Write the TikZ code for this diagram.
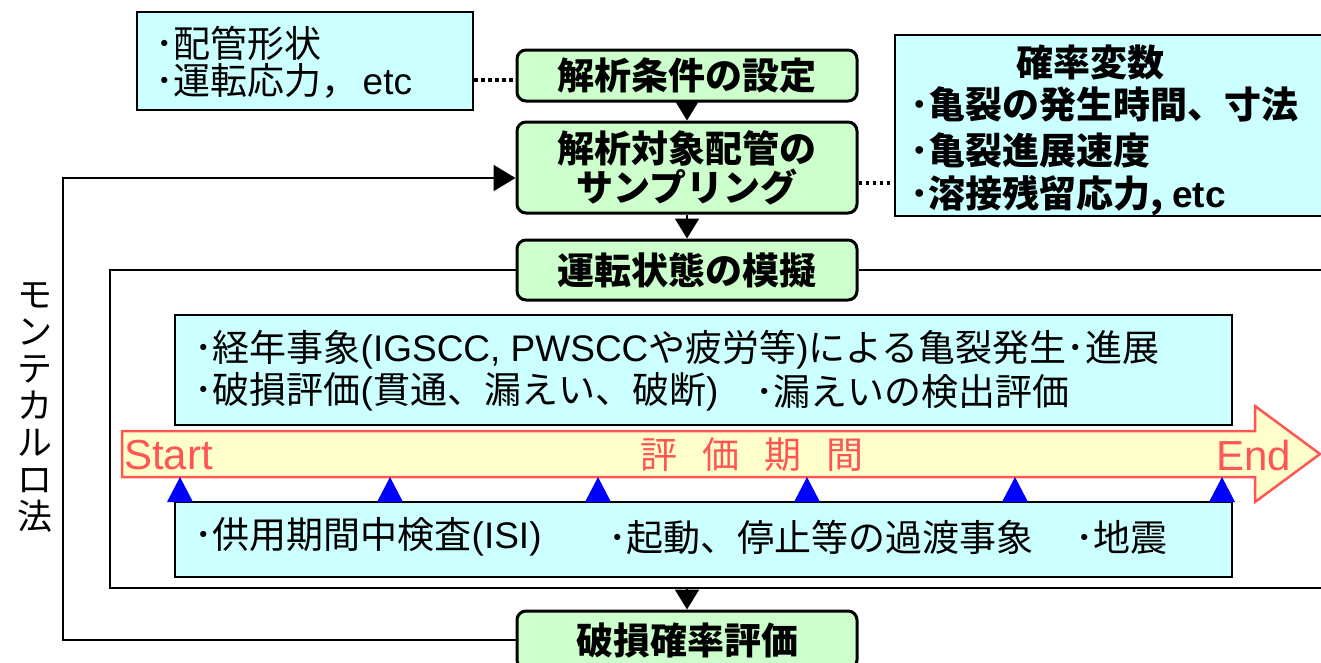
\documentclass[tikz,border=0pt]{standalone}
\usepackage{fontspec}
\setmainfont{Liberation Sans}
\newfontfamily\jp{Noto Sans CJK JP}
\usetikzlibrary{arrows.meta}
\definecolor{gfill}{RGB}{204,255,204}
\definecolor{cfill}{RGB}{204,255,255}
\definecolor{yfill}{RGB}{255,255,204}
\definecolor{rline}{RGB}{255,85,85}
\tikzset{
  greenbox/.style={draw, line width=3pt, rounded corners=9pt, fill=gfill, minimum width=340pt,
    font=\jp\bfseries\fontsize{37}{40}\selectfont, align=center, inner sep=0pt},
  cyanbox/.style={draw, line width=2.5pt, fill=cfill, inner sep=0pt},
  txt/.style={font=\fontsize{37}{40}\selectfont, inner sep=0pt, anchor=west},
  btxt/.style={font=\jp\bfseries\fontsize{37}{40}\selectfont, inner sep=0pt, anchor=west},
  flow/.style={line width=2pt, -{Triangle[width=24pt,length=20pt]}},
  dotline/.style={line width=3.5pt, dash pattern=on 3.5pt off 3.5pt},
  frame/.style={line width=2.5pt},
  redtxt/.style={text=rline, inner sep=0pt}
}
\begin{document}
\begin{tikzpicture}[x=1pt,y=-1pt]
\useasboundingbox (0,0) rectangle (1321,662);
% top-left box
\node[cyanbox, minimum width=336pt, minimum height=98pt] (tl) at (305,61) {};
\node[txt] (tl1) at (155,43) {{\jp ･配管形状}};
\node[txt] (tl2) at (155,81) {{\jp ･運転応力，}\hspace{4pt}etc};
% right box
\node[cyanbox, minimum width=440pt, minimum height=181pt] (rb) at (1115,125.5) {};
\node[btxt, anchor=center] (rb0) at (1090,62) {確率変数};
\node[btxt] (rb1) at (910,104) {･亀裂の発生時間、寸法};
\node[btxt] (rb2) at (910,150) {･亀裂進展速度};
\node[btxt] (rb3) at (910,196) {･溶接残留応力, {\rmfamily\bfseries etc}};
% green boxes
\node[greenbox, minimum height=51pt] (g1) at (687,75.5) {解析条件の設定};
\node[greenbox, minimum height=91pt] (g2) at (687,167.5) {解析対象配管の\\[-1pt]サンプリング};
\node[greenbox, minimum height=60pt] (g3) at (687,270) {運転状態の模擬};
\node[greenbox, minimum height=58pt] (g4) at (687,640) {破損確率評価};
% outer frame
\coordinate (fl) at (110,588);
\coordinate (fr) at (1330,588);
\draw[frame] (g3.west) -| (fl) -- (fr);
\draw[frame] (g3.east) -- (1330,270);
% inner cyan boxes
\node[cyanbox, minimum width=1057pt, minimum height=110pt] (c1) at (703.5,370) {};
\node[txt] (c1a) at (194,350) {{\jp ･経年事象}(IGSCC, PWSCC{\jp や疲労等}){\jp による亀裂発生･進展}};
\node[txt] (c1b) at (194,392) {{\jp ･破損評価}({\jp 貫通、漏えい、破断})};
\node[txt] (c1c) at (755,392) {{\jp ･漏えいの検出評価}};
\node[cyanbox, minimum width=1057pt, minimum height=75pt] (c2) at (703.5,539.5) {};
\node[txt] (c2a) at (194,537) {{\jp ･供用期間中検査}(ISI)};
\node[txt] (c2b) at (608,537) {{\jp ･起動、停止等の過渡事象}};
\node[txt] (c2c) at (1075,537) {{\jp ･地震}};
% evaluation period arrow
\draw[rline, line width=2.5pt, fill=yfill] (122,431) -- (1255,431) -- (1255,406) -- (1320,454) -- (1255,502) -- (1255,477) -- (122,477) -- cycle;
\node[redtxt, anchor=west, font=\fontsize{42}{44}\selectfont] (st) at (124,455) {Start};
\node[redtxt, anchor=west, font=\fontsize{42}{44}\selectfont] (en) at (1216,455) {End};
\node[redtxt, font=\jp\fontsize{37}{40}\selectfont] (ev) at (752,455) {評\hspace{25pt}価\hspace{25pt}期\hspace{25pt}間};
% blue triangles
\foreach \x in {180,390,598,807,1015,1222}
  \fill[blue] (\x-13,502) -- (\x+13,502) -- (\x,477) -- cycle;
% vertical label
\node[font=\jp\fontsize{35}{37}\selectfont, align=center, inner sep=0pt] (mc) at (35,407) {モ\\ン\\テ\\カ\\ル\\ロ\\法};
% connectors
\draw[flow] (g1) -- (g2);
\draw[flow] (g2) -- (g3);
\draw[flow] (g3.south |- fl) -- (g4);
\draw[dotline] (tl.east |- 0,80) -- (g1.west |- 0,80);
\coordinate (d2) at (876,183);
\draw[dotline] (g2.east |- d2) -- (rb.west |- d2);
\coordinate (lp) at (63,178);
\draw[line width=2pt, -{Triangle[width=26pt,length=22pt]}] (g4.west) -| (lp) -- (g2.west |- lp);
\end{tikzpicture}
\end{document}
